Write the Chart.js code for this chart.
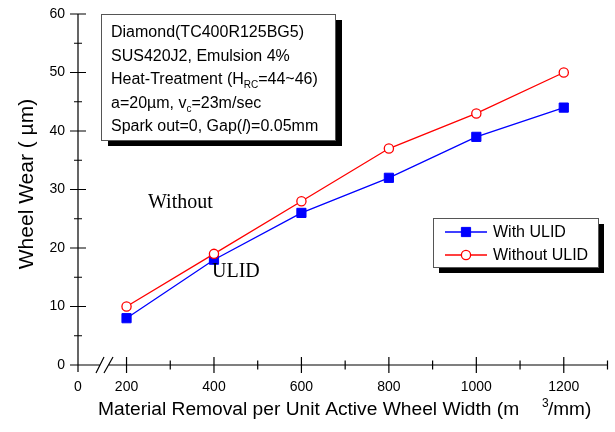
<!DOCTYPE html>
<html>
<head>
<meta charset="utf-8">
<script src="https://cdn.jsdelivr.net/npm/chart.js@4"></script>
<style>
  html, body { margin: 0; padding: 0; background: #fff; }
  #wrap { width: 615px; height: 432px; }
</style>
</head>
<body>
<div id="wrap"><canvas id="c" width="615" height="432"></canvas></div>
<script>
// Material removal per unit active wheel width (mm^3/mm) and measured wheel wear (µm)
const removal = [200, 400, 600, 800, 1000, 1200];
const wearWithULID = [8, 18, 26, 32, 39, 44];
const wearWithoutULID = [10, 19, 28, 37, 43, 50];
const seriesNames = ['With ULID', 'Without ULID'];

// Axis ticks (the x axis is broken between 0 and 200)
const xAxisStart = 89;
const xAxisEnd = 1300;
const xOriginLabel = '0';
const xMajorTicks = [200, 400, 600, 800, 1000, 1200];
const xMinorTicks = [300, 500, 700, 900, 1100, 1300];
const yMajorTicks = [0, 10, 20, 30, 40, 50, 60];
const yMinorTicks = [5, 15, 25, 35, 45, 55];

// Grinding conditions: each line is a list of [text, style] runs
const conditionLines = [
  [['Diamond(TC400R125BG5)', '']],
  [['SUS420J2, Emulsion 4%', '']],
  [['Heat-Treatment (H', ''], ['RC', 'sub'], ['=44~46)', '']],
  [['a=20\u00b5m, v', ''], ['c', 'sub'], ['=23m/sec', '']],
  [['Spark out=0, Gap(', ''], ['l', 'it'], [')=0.05mm', '']]
];

const SANS = '"Liberation Sans", Arial, sans-serif';
const SERIF = '"Liberation Serif", "Times New Roman", serif';

function drawRich(ctx, x, y, runs, size) {
  ctx.textAlign = 'left';
  ctx.textBaseline = 'alphabetic';
  for (const [text, style] of runs) {
    let yy = y;
    if (style === 'sub') { ctx.font = Math.round(size * 0.62) + 'px ' + SANS; yy = y + 4; }
    else if (style === 'it') { ctx.font = 'italic ' + size + 'px ' + SANS; }
    else { ctx.font = size + 'px ' + SANS; }
    ctx.fillText(text, x, yy);
    x += ctx.measureText(text).width;
  }
}

function shadowBox(ctx, x, y, w, h, dx, dy) {
  ctx.fillStyle = '#000';
  ctx.fillRect(x + dx, y + dy, w, h);
  ctx.fillStyle = '#fff';
  ctx.fillRect(x, y, w, h);
  ctx.strokeStyle = '#555';
  ctx.lineWidth = 1;
  ctx.strokeRect(x + 0.5, y + 0.5, w, h);
}

const axesPlugin = {
  id: 'brokenAxes',
  beforeDatasetsDraw(chart) {
    const { ctx, scales: { x, y } } = chart;
    const y0 = y.getPixelForValue(0);
    const xl = x.getPixelForValue(xAxisStart);
    const xr = x.getPixelForValue(xAxisEnd);
    ctx.save();
    ctx.strokeStyle = '#000';
    ctx.lineWidth = 1.2;
    ctx.beginPath();
    // vertical axis
    ctx.moveTo(xl, y.getPixelForValue(60));
    ctx.lineTo(xl, y0 + 7);
    // horizontal axis with a break
    ctx.moveTo(xl, y0);
    ctx.lineTo(xl + 22, y0);
    ctx.moveTo(xl + 30, y0);
    ctx.lineTo(xr, y0);
    // break marks
    ctx.moveTo(xl + 18, y0 + 8); ctx.lineTo(xl + 26, y0 - 8);
    ctx.moveTo(xl + 26, y0 + 8); ctx.lineTo(xl + 35, y0 - 8);
    // y ticks
    for (const v of yMajorTicks) {
      const py = y.getPixelForValue(v);
      ctx.moveTo(xl - 8, py); ctx.lineTo(xl + 8, py);
    }
    for (const v of yMinorTicks) {
      const py = y.getPixelForValue(v);
      ctx.moveTo(xl - 4, py); ctx.lineTo(xl + 4, py);
    }
    // x ticks
    for (const v of xMajorTicks) {
      const px = x.getPixelForValue(v);
      ctx.moveTo(px, y0 - 8); ctx.lineTo(px, y0 + 8);
    }
    for (const v of xMinorTicks) {
      const px = x.getPixelForValue(v);
      ctx.moveTo(px, y0 - 4.5); ctx.lineTo(px, y0 + 4.5);
    }
    ctx.stroke();
    ctx.restore();
  },
  afterDraw(chart) {
    const { ctx } = chart;
    ctx.save();

    // axis titles
    ctx.fillStyle = '#000';
    ctx.font = '19.2px ' + SANS;
    ctx.textAlign = 'left';
    ctx.textBaseline = 'alphabetic';
    ctx.fillText('Material Removal per Unit Active Wheel Width (m', 98, 415);
    ctx.font = '12px ' + SANS;
    ctx.fillText('3', 542, 407);
    ctx.font = '19px ' + SANS;
    ctx.fillText('/mm)', 548, 415);

    ctx.save();
    ctx.translate(33, 184);
    ctx.rotate(-Math.PI / 2);
    ctx.font = '21px ' + SANS;
    ctx.textAlign = 'center';
    ctx.fillText('Wheel Wear ( \u00b5m)', 0, 0);
    ctx.restore();

    // conditions box
    shadowBox(ctx, 101, 14, 234, 126, 7, 6);
    ctx.fillStyle = '#000';
    conditionLines.forEach((runs, i) => drawRich(ctx, 111, 37 + i * 23.5, runs, 16));

    // legend
    shadowBox(ctx, 433, 218, 165, 49, 6, 6);
    const rows = [232, 255];
    chart.data.datasets.forEach((ds, i) => {
      const ry = rows[i];
      ctx.strokeStyle = ds.borderColor;
      ctx.lineWidth = 1.3;
      ctx.beginPath();
      ctx.moveTo(445, ry); ctx.lineTo(487, ry);
      ctx.stroke();
      ctx.fillStyle = ds.pointBackgroundColor;
      ctx.strokeStyle = ds.borderColor;
      ctx.lineWidth = ds.pointBorderWidth;
      ctx.beginPath();
      if (ds.pointStyle === 'rect') {
        const s = Math.SQRT1_2 * ds.pointRadius;
        ctx.rect(466 - s, ry - s, 2 * s, 2 * s);
      } else {
        ctx.arc(466, ry, ds.pointRadius, 0, Math.PI * 2);
      }
      ctx.fill();
      ctx.stroke();
      ctx.fillStyle = '#000';
      ctx.font = '16px ' + SANS;
      ctx.textAlign = 'left';
      ctx.textBaseline = 'middle';
      ctx.fillText(ds.label, 493, ry + 1);
    });

    // curve annotations
    ctx.fillStyle = '#000';
    ctx.font = '20px ' + SERIF;
    ctx.textAlign = 'left';
    ctx.textBaseline = 'alphabetic';
    ctx.fillText('Without', 148, 208);
    ctx.fillText('ULID', 212, 277);

    ctx.restore();
  }
};

new Chart(document.getElementById('c'), {
  type: 'line',
  data: {
    datasets: [
      {
        label: seriesNames[0],
        data: removal.map((v, i) => ({ x: v, y: wearWithULID[i] })),
        borderColor: '#0000ff',
        backgroundColor: '#0000ff',
        pointBackgroundColor: '#0000ff',
        pointBorderColor: '#0000ff',
        pointStyle: 'rect',
        pointRadius: 6.5,
        pointBorderWidth: 1,
        borderWidth: 1.3,
        tension: 0,
        order: 1
      },
      {
        label: seriesNames[1],
        data: removal.map((v, i) => ({ x: v, y: wearWithoutULID[i] })),
        borderColor: '#ff0000',
        backgroundColor: '#ffffff',
        pointBackgroundColor: '#ffffff',
        pointBorderColor: '#ff0000',
        pointStyle: 'circle',
        pointRadius: 4.6,
        pointBorderWidth: 1.3,
        borderWidth: 1.3,
        tension: 0,
        order: 0
      }
    ]
  },
  options: {
    responsive: false,
    animation: false,
    layout: { padding: { top: 14, right: 3, left: 0, bottom: 0 } },
    plugins: { legend: { display: false }, tooltip: { enabled: false }, title: { display: false } },
    scales: {
      x: {
        type: 'linear',
        min: xAxisStart,
        max: xAxisEnd,
        grid: { display: false, drawTicks: false },
        border: { display: false },
        afterBuildTicks(scale) {
          scale.ticks = [xAxisStart, ...xMajorTicks].map(v => ({ value: v }));
        },
        afterFit(scale) {
          scale.height = 67;
          scale.paddingLeft = 0;
          scale.paddingRight = 0;
        },
        ticks: {
          autoSkip: false,
          maxRotation: 0,
          padding: 14,
          color: '#000',
          font: { family: SANS, size: 14 },
          callback: v => (v === xAxisStart ? xOriginLabel : String(v))
        }
      },
      y: {
        type: 'linear',
        min: 0,
        max: 60,
        grid: { display: false, drawTicks: false },
        border: { display: false },
        afterBuildTicks(scale) {
          scale.ticks = yMajorTicks.map(v => ({ value: v }));
        },
        afterFit(scale) {
          scale.width = 78;
          scale.paddingTop = 0;
          scale.paddingBottom = 0;
        },
        ticks: {
          padding: 13,
          color: '#000',
          font: { family: SANS, size: 14 }
        }
      }
    }
  },
  plugins: [axesPlugin]
});
</script>
</body>
</html>
